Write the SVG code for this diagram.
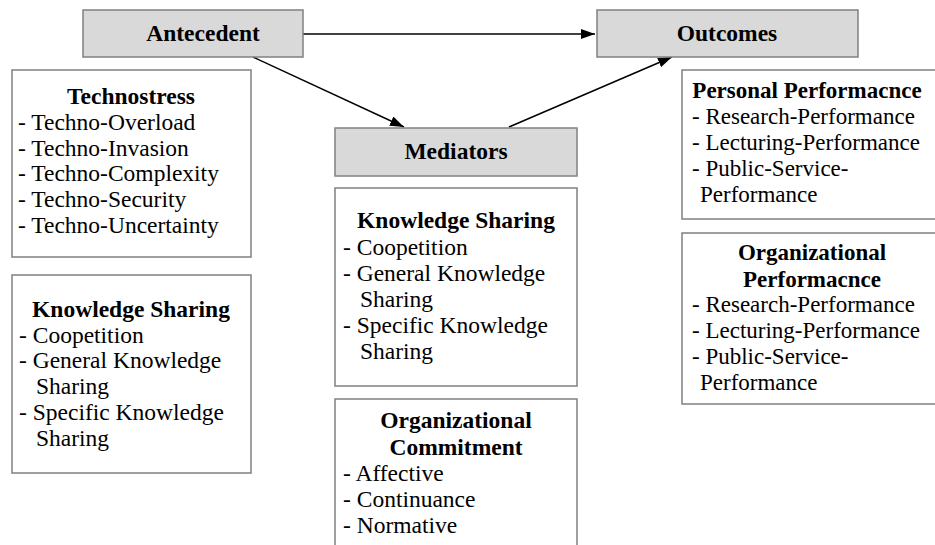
<svg xmlns="http://www.w3.org/2000/svg" width="935" height="545" viewBox="0 0 935 545">
<style>
text{font-family:'Liberation Serif','Times New Roman',Tinos,serif;font-size:23.5px;fill:#000}
.r text{font-size:23px}
.b{font-weight:bold}
.c{text-anchor:middle}
.hdr{fill:#d9d9d9;stroke:#808080;stroke-width:1.5}
.box{fill:#fff;stroke:#808080;stroke-width:1.5}
.con{stroke:#000;stroke-width:1.5;fill:none}
</style>
<defs>
<marker id="ah" markerWidth="14" markerHeight="10" refX="14" refY="5" orient="auto" markerUnits="userSpaceOnUse">
<path d="M0,0 L14,5 L0,10 Z" fill="#000"/>
</marker>
</defs>
<g id="connectors">
<line class="con" x1="303" y1="34" x2="595" y2="34" marker-end="url(#ah)"/>
<line class="con" x1="253" y1="57" x2="404" y2="127" marker-end="url(#ah)"/>
<line class="con" x1="509" y1="127" x2="672" y2="57" marker-end="url(#ah)"/>
</g>
<g id="antecedent">
<rect class="hdr" x="83" y="10" width="220" height="47"/>
<text class="b c" x="203" y="41">Antecedent</text>
</g>
<g id="outcomes">
<rect class="hdr" x="597" y="10" width="261" height="47"/>
<text class="b c" x="727" y="41">Outcomes</text>
</g>
<g id="mediators">
<rect class="hdr" x="335" y="128" width="242" height="48"/>
<text class="b c" x="456" y="159">Mediators</text>
</g>
<g id="technostress">
<rect class="box" x="12" y="70" width="239" height="187"/>
<text class="b c" x="131" y="104">Technostress</text>
<text x="18" y="130">- Techno-Overload</text>
<text x="18" y="156">- Techno-Invasion</text>
<text x="18" y="181">- Techno-Complexity</text>
<text x="18" y="207">- Techno-Security</text>
<text x="18" y="233">- Techno-Uncertainty</text>
</g>
<g id="knowledge-sharing-antecedent">
<rect class="box" x="12" y="275" width="239" height="198"/>
<text class="b c" x="131" y="317">Knowledge Sharing</text>
<text x="19" y="343">- Coopetition</text>
<text x="19" y="368">- General Knowledge</text>
<text x="36" y="394">Sharing</text>
<text x="19" y="420">- Specific Knowledge</text>
<text x="36" y="446">Sharing</text>
</g>
<g id="knowledge-sharing-mediator">
<rect class="box" x="335" y="188" width="242" height="198"/>
<text class="b c" x="456" y="228">Knowledge Sharing</text>
<text x="343" y="255">- Coopetition</text>
<text x="343" y="281">- General Knowledge</text>
<text x="360" y="307">Sharing</text>
<text x="343" y="333">- Specific Knowledge</text>
<text x="360" y="359">Sharing</text>
</g>
<g id="organizational-commitment">
<rect class="box" x="335" y="399" width="242" height="160"/>
<text class="b c" x="456" y="428">Organizational</text>
<text class="b c" x="456" y="455">Commitment</text>
<text x="343" y="481">- Affective</text>
<text x="343" y="507">- Continuance</text>
<text x="343" y="533">- Normative</text>
</g>
<g id="personal-performance" class="r">
<rect class="box" x="682" y="70" width="270" height="149"/>
<text class="b c" x="807" y="98">Personal Performacnce</text>
<text x="692" y="124">- Research-Performance</text>
<text x="692" y="150">- Lecturing-Performance</text>
<text x="692" y="176">- Public-Service-</text>
<text x="700" y="202">Performance</text>
</g>
<g id="organizational-performance" class="r">
<rect class="box" x="682" y="233" width="270" height="171"/>
<text class="b c" x="812" y="260">Organizational</text>
<text class="b c" x="812" y="287">Performacnce</text>
<text x="692" y="312">- Research-Performance</text>
<text x="692" y="338">- Lecturing-Performance</text>
<text x="692" y="364">- Public-Service-</text>
<text x="700" y="390">Performance</text>
</g>
</svg>
